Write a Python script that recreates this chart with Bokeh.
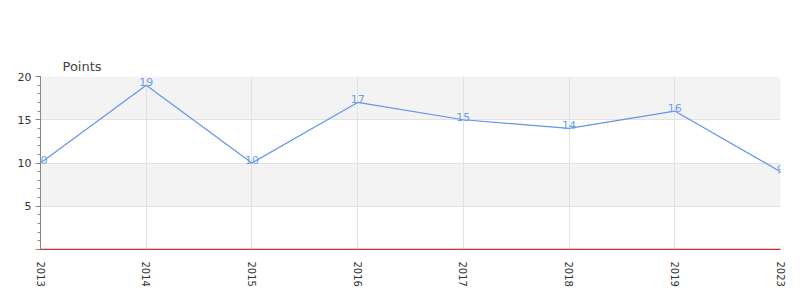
from bokeh.plotting import figure
from bokeh.models import ColumnDataSource, FixedTicker, Span, Range1d, Label
from bokeh.embed import file_html
from bokeh.resources import INLINE

years = ["2013", "2014", "2015", "2016", "2017", "2018", "2019", "2023"]
points = [10, 19, 10, 17, 15, 14, 16, 9]
y_ticks = [0, 5, 10, 15, 20]
y_minor = list(range(0, 21))

FONT = "DejaVu Sans"
LINE = "#6495ED"

idx = list(range(len(years)))
src = ColumnDataSource(dict(x=idx, y=points, label=[str(v) for v in points]))

p = figure(width=800, height=300, output_backend="svg", toolbar_location=None,
           x_range=Range1d(0, len(years) - 1), y_range=Range1d(0, 20),
           min_border_left=40, min_border_right=20, min_border_top=76, min_border_bottom=51)
p.outline_line_color = None
p.background_fill_color = "white"

p.title.text = "Points"
p.title.align = "left"
p.title.offset = 22
p.title.text_font = FONT
p.title.text_font_size = "13px"
p.title.text_font_style = "normal"
p.title.text_color = "#444444"
p.title.standoff = 5

p.line("x", "y", source=src, line_color=LINE, line_width=1.2)
for xi, yi in zip(idx, points):
    p.add_layout(Label(x=xi, y=yi, text=str(yi), text_align="center",
                       text_baseline="alphabetic", y_offset=3, text_font_size="11px",
                       text_color="#6f9de8", text_font=FONT, level="overlay"))

p.add_layout(Span(location=0, dimension="width", line_color="red", line_width=1.5))

# x axis
p.xaxis.ticker = FixedTicker(ticks=idx)
p.xaxis.major_label_overrides = {i: y for i, y in enumerate(years)}
p.xaxis.major_label_orientation = "vertical"
p.xaxis.major_tick_line_color = None
p.xaxis.minor_tick_line_color = None
p.xaxis.major_tick_out = 0
p.xaxis.major_tick_in = 0
p.xaxis.axis_line_color = "#777777"
p.xaxis.major_label_text_font = FONT
p.xaxis.major_label_text_font_size = "10px"
p.xaxis.major_label_text_color = "#333333"
p.xaxis.major_label_standoff = 12

# y axis
p.yaxis.ticker = FixedTicker(ticks=y_ticks, minor_ticks=y_minor)
p.yaxis.major_label_overrides = {0: ""}
p.yaxis.axis_line_color = "#888888"
p.yaxis.major_tick_line_color = "#888888"
p.yaxis.minor_tick_line_color = "#888888"
p.yaxis.major_tick_out = 5
p.yaxis.major_tick_in = 0
p.yaxis.minor_tick_out = 3
p.yaxis.minor_tick_in = 0
p.yaxis.major_label_text_font = FONT
p.yaxis.major_label_text_font_size = "11px"
p.yaxis.major_label_text_color = "#333333"
p.yaxis.major_label_standoff = 4

# grids
p.xgrid.ticker = FixedTicker(ticks=idx)
p.xgrid.grid_line_color = "#e2e2e2"
p.ygrid.ticker = FixedTicker(ticks=y_ticks[1:])
p.ygrid.grid_line_color = "#e2e2e2"
p.ygrid.band_fill_color = "#f3f3f3"
p.ygrid.band_fill_alpha = 1.0
p.ygrid.level = "image"

open("out.html", "w").write(file_html(p, INLINE))
